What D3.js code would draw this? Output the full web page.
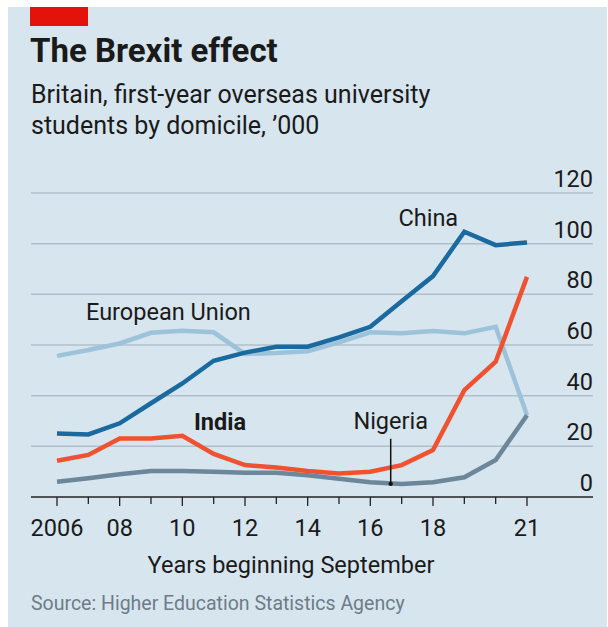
<!DOCTYPE html>
<html><head><meta charset="utf-8">
<script src="https://cdn.jsdelivr.net/npm/d3@7"></script>
<style>body{margin:0;background:#fff}svg{display:block}text{font-family:Roboto,"Open Sans",sans-serif}</style>
</head><body>
<svg id="c" width="608" height="627"></svg>
<script>
const years = [2006,2007,2008,2009,2010,2011,2012,2013,2014,2015,2016,2017,2018,2019,2020,2021];
const china   = [25.1,24.7,29.1,37,44.8,53.8,57,59.3,59.3,63,67.2,77.3,87.2,104.7,99.4,100.5];
const eu      = [55.7,58,60.6,64.8,65.6,65,56.5,56.8,57.5,61,65,64.6,65.5,64.6,67.2,32.3];
const india   = [14.3,16.6,23.1,23.1,24.2,17,12.6,11.6,10.3,9.3,10,12.6,18.5,42.2,53.4,86.9];
const nigeria = [6,7.4,9,10.3,10.3,10,9.6,9.6,8.6,7.2,5.8,5.1,5.8,7.8,14.6,32.3];
const yTicks = [0,20,40,60,80,100,120];
const xTickLabels = {2006:"2006",2008:"08",2010:"10",2012:"12",2014:"14",2016:"16",2018:"18",2021:"21"};

const svg = d3.select("#c");
svg.append("rect").attr("x",8).attr("y",7).attr("width",599).attr("height",620).attr("fill","#d7e5ee");
svg.append("rect").attr("x",30).attr("y",7).attr("width",58).attr("height",19).attr("fill","#e3120b");

svg.append("text").attr("x",30).attr("y",62).attr("font-size",33).attr("font-weight",700).attr("fill","#1a1a1a").text("The Brexit effect");
svg.append("text").attr("x",31).attr("y",103).attr("font-size",25).attr("fill","#1a1a1a").text("Britain, first-year overseas university");
svg.append("text").attr("x",31).attr("y",134).attr("font-size",25).attr("fill","#1a1a1a").text("students by domicile, \u2019000");

const x = d3.scaleLinear().domain([2006,2021]).range([57,527]);
const y = d3.scaleLinear().domain([0,120]).range([497,193]);
const gL = 31, gR = 593;
const fs = 23.5;

// gridlines
svg.append("g").selectAll("line").data(yTicks.filter(d=>d>0)).join("line")
  .attr("x1",gL).attr("x2",gR).attr("y1",d=>y(d)).attr("y2",d=>y(d))
  .attr("stroke","#afc0cb").attr("stroke-width",1.5);
svg.append("g").selectAll("text").data(yTicks).join("text")
  .attr("x",gR).attr("y",d=>y(d)-6).attr("text-anchor","end")
  .attr("font-size",fs).attr("fill","#1a1a1a").text(d=>d);

// x axis
svg.append("line").attr("x1",gL).attr("x2",gR).attr("y1",y(0)).attr("y2",y(0)).attr("stroke","#222").attr("stroke-width",1.5);
svg.append("g").selectAll("line").data(years).join("line")
  .attr("x1",d=>x(d)).attr("x2",d=>x(d)).attr("y1",y(0)).attr("y2",d=>y(0)+(xTickLabels[d]?9:7))
  .attr("stroke","#222").attr("stroke-width",1.3);
svg.append("g").selectAll("text").data(years.filter(d=>xTickLabels[d])).join("text")
  .attr("x",d=>x(d)).attr("y",536).attr("text-anchor","middle")
  .attr("font-size",fs).attr("fill","#1a1a1a").text(d=>xTickLabels[d]);
svg.append("text").attr("x",291).attr("y",573).attr("text-anchor","middle").attr("font-size",fs).attr("fill","#1a1a1a").text("Years beginning September");
svg.append("text").attr("x",31).attr("y",610).attr("font-size",19.5).attr("fill","#6d7c87").text("Source: Higher Education Statistics Agency");

const line = d3.line().x((d,i)=>x(years[i])).y(d=>y(d));
const series = [
  {v:eu, c:"#9dc3da"},
  {v:nigeria, c:"#6b8799"},
  {v:china, c:"#1a6aa0"},
  {v:india, c:"#ef5231"}
];
svg.append("g").selectAll("path").data(series).join("path")
  .attr("d",d=>line(d.v)).attr("fill","none").attr("stroke",d=>d.c).attr("stroke-width",4.5);

// labels
svg.append("text").attr("x",x(2017.85)).attr("y",y(106.8)).attr("text-anchor","middle").attr("font-size",fs).attr("fill","#1a1a1a").text("China");
svg.append("text").attr("x",86).attr("y",y(70)).attr("font-size",fs).attr("fill","#1a1a1a").text("European Union");
svg.append("text").attr("x",194).attr("y",y(26.5)).attr("font-size",fs).attr("font-weight",700).attr("fill","#1a1a1a").text("India");
// Nigeria annotation
const nx = x(2016.65);
svg.append("line").attr("x1",nx).attr("x2",nx).attr("y1",y(23)).attr("y2",y(5.2)).attr("stroke","#111").attr("stroke-width",1.5);
svg.append("circle").attr("cx",nx).attr("cy",y(5.2)).attr("r",2.2).attr("fill","#111");
svg.append("text").attr("x",nx).attr("y",y(27)).attr("text-anchor","middle").attr("font-size",fs).attr("fill","#1a1a1a").text("Nigeria");
</script>
</body></html>
